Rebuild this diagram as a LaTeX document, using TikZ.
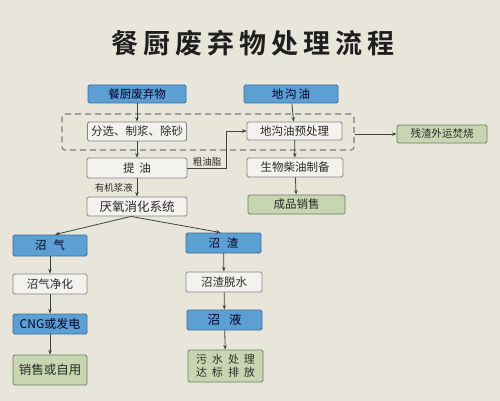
\documentclass[tikz,border=0pt]{standalone}
\usepackage{fontspec}
\newfontfamily\cjk{Noto Sans CJK SC}[BoldFont={Noto Sans CJK SC Bold}]
\usetikzlibrary{arrows.meta,calc}
\definecolor{bg}{HTML}{E8E6DB}
\definecolor{bluef}{HTML}{5C9FD3}
\definecolor{blued}{HTML}{3D6E96}
\definecolor{greenf}{HTML}{C7D6B1}
\definecolor{greend}{HTML}{6E7C62}
\definecolor{whitef}{HTML}{F3F2EE}
\definecolor{grayd}{HTML}{858580}
\definecolor{txt}{HTML}{2A2A2A}
\definecolor{arrc}{HTML}{3E4638}
\definecolor{dashc}{HTML}{7C7C78}
\newcommand\tg{\hspace{5pt}}
\begin{document}
\begin{tikzpicture}[x=1pt,y=-1pt,
  box/.style={line width=0.9pt, rounded corners=1.5pt, minimum height=19pt,
    inner sep=0pt, font=\cjk\fontsize{11.5}{14}\selectfont, text=txt, align=center},
  bluebox/.style={box, fill=bluef, draw=blued, text=black!85!blue},
  greenbox/.style={box, fill=greenf, draw=greend},
  whitebox/.style={box, fill=whitef, draw=grayd},
  arr/.style={draw=arrc, line width=0.8pt, -{Stealth[length=4.5pt,width=3.5pt]}},
  lbl/.style={font=\cjk\fontsize{9.5}{11}\selectfont, text=txt, inner sep=0pt},
]
\useasboundingbox (0,0) rectangle (500,401);
\fill[bg] (0,0) rectangle (500,401);

\node[font=\cjk\bfseries\fontsize{27}{30}\selectfont, text=black!88] (title) at (253,43)
  {餐\tg 厨\tg 废\tg 弃\tg 物\tg 处\tg 理\tg 流\tg 程};

% dashed group
\node[draw=dashc, line width=1.1pt, dash pattern=on 6pt off 4pt, rounded corners=3pt,
      minimum width=292pt, minimum height=36pt, inner sep=0pt] (grp) at (208,132) {};

\node[bluebox, minimum width=98pt, minimum height=18pt] (A) at (137,94) {餐厨废弃物};
\node[bluebox, minimum width=94pt, minimum height=18pt] (B) at (291,94) {地\hspace{2pt}沟\hspace{2pt}油};
\node[whitebox, minimum width=99pt] (C) at (137,131.5) {分选、制浆、除砂};
\node[whitebox, minimum width=95pt, minimum height=18pt] (D) at (294.5,131) {地沟油预处理};
\node[whitebox, minimum width=100pt, minimum height=20pt] (E) at (137,168) {提\tg 油};
\node[whitebox, minimum width=96pt] (F) at (295,167.5) {生物柴油制备};
\node[whitebox, minimum width=100pt, font=\cjk\fontsize{12.5}{14}\selectfont] (G) at (137,206.5) {厌氧消化系统};
\node[greenbox, minimum width=97pt] (H) at (296.5,204.5) {成品销售};
\node[greenbox, minimum width=90pt, minimum height=18pt, font=\cjk\fontsize{10.5}{13}\selectfont] (I) at (442,134) {残渣外运焚烧};

\node[bluebox, minimum width=74pt, minimum height=21pt] (J) at (50,245.5) {沼\hspace{7pt}气};
\node[whitebox, minimum width=74pt, minimum height=20pt] (K) at (50,284) {沼气净化};
\node[bluebox, minimum width=74pt, minimum height=20pt, font=\cjk\fontsize{12}{14}\selectfont] (L) at (50,324) {CNG或发电};
\node[greenbox, minimum width=74pt, minimum height=30pt, font=\cjk\fontsize{12.5}{14}\selectfont] (M) at (50,370) {销售或自用};
\node[bluebox, minimum width=75pt, minimum height=20pt] (N) at (223.5,243) {沼\hspace{7pt}渣};
\node[whitebox, minimum width=76pt, minimum height=20pt] (O) at (224,282) {沼渣脱水};
\node[bluebox, minimum width=75pt, minimum height=20pt, font=\cjk\fontsize{12.5}{14}\selectfont] (P) at (224.5,320) {沼\hspace{9pt}液};
\node[greenbox, minimum width=75pt, minimum height=32pt, font=\cjk\fontsize{11}{13.5}\selectfont] (Q) at (225.5,366)
  {污\tg 水\tg 处\tg 理\\达\tg 标\tg 排\tg 放};

% connectors
\draw[arr] (A) -- (C);
\draw[arr] (B) -- (D);
\draw[arr] (C) -- (E);
\draw[arr] (D) -- (F);
\draw[arr] (E) -- (G);
\draw[arr] (F) -- (H);
\draw[arr] (E.east) -| ($(D.west)+(-20,0)$) -- (D.west);
\node[lbl, anchor=south] (l1) at (207,166) {粗油脂};
\node[lbl, anchor=east] (l2) at (133,187.5) {有机浆液};
\draw[arr] (grp.east |- I.west) -- (I.west);
\draw[arr] ($(G.south)+(-6,0)$) -- ($(J.north)+(5,0)$);
\draw[arr] ($(G.south)+(-6,0)$) -- ($(N.north)+(-3,0)$);
\draw[arr] (J) -- (K);
\draw[arr] (K) -- (L);
\draw[arr] (L) -- (M);
\draw[arr] (N) -- (O);
\draw[arr] (O) -- (P);
\draw[arr] (P) -- (Q);
\end{tikzpicture}
\end{document}
